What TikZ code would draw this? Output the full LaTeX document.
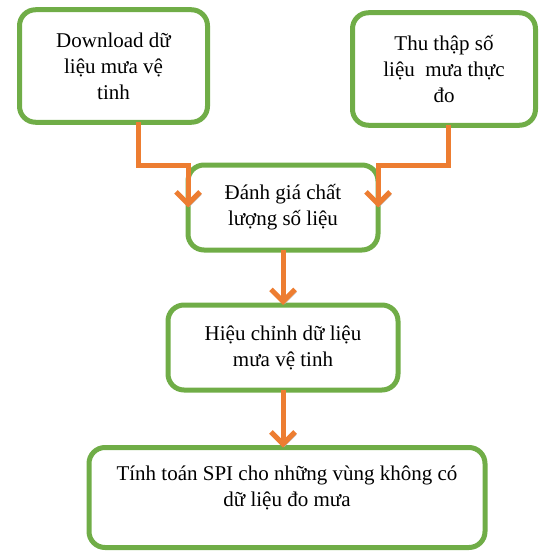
\documentclass[tikz,border=0pt]{standalone}
\usepackage{fontspec}
\setmainfont{Liberation Serif}
\usepackage{tikz}
\usetikzlibrary{positioning,arrows.meta}
\definecolor{BoxGreen}{HTML}{70AD47}
\definecolor{FlowOrange}{HTML}{ED7D31}

\tikzset{
	procbox/.style={
		draw=BoxGreen,
		line width=5pt,
		rounded corners=16pt,
		outer sep=0pt,
		align=center,
		font=\fontsize{21}{26}\selectfont
	},
	flowarrow/.style={
		draw=FlowOrange,
		line width=5pt,
		-{Straight Barb[length=12pt,width=24pt,line width=5pt]},
		preaction={draw=gray!55,transform canvas={shift={(1.5pt,-2.5pt)}}}
	}
}

\begin{document}
\begin{tikzpicture}[x=1pt,y=-1pt,node distance=55pt]
			
			\useasboundingbox (0,0) rectangle (538,551);
			
			% ---------------------------------------------------------
			% INPUT DATA
			% ---------------------------------------------------------
			
			\node[procbox,minimum width=188pt,minimum height=112.5pt]
			(sat) at (113.5,66)
			{Download dữ\\liệu mưa vệ\\tinh};
			
			\node[procbox,minimum width=183pt,minimum height=112.5pt]
			(gauge) at (444,69)
			{Thu thập số\\liệu\ \ mưa thực\\đo};
			
			% ---------------------------------------------------------
			% PROCESSING
			% ---------------------------------------------------------
			
			\node[procbox,minimum width=190pt,minimum height=85pt]
			(qc) at (283,207.5)
			{Đánh giá chất\\lượng số liệu};
			
			\node[procbox,minimum width=230pt,minimum height=85pt,
			below=of qc]
			(correct)
			{Hiệu chỉnh dữ liệu\\mưa vệ tinh};
			
			\node[procbox,minimum width=396pt,minimum height=100pt,
			text depth=22pt,below=57.5pt of correct,xshift=4pt]
			(spi)
			{Tính toán SPI cho những vùng không có\\dữ liệu đo mưa};
			
			% ---------------------------------------------------------
			% ARROWS
			% ---------------------------------------------------------
			
			\draw[flowarrow]
			([xshift=25pt]sat.south) |- (qc.north west) -- (qc.west);
			
			\draw[flowarrow]
			([xshift=4pt]gauge.south) |- (qc.north east) -- (qc.east);
			
			\draw[flowarrow]
			(qc) -- (correct);
			
			\draw[flowarrow]
			(correct.south) -- ([xshift=-4pt]spi.north);
			
\end{tikzpicture}
\end{document}
